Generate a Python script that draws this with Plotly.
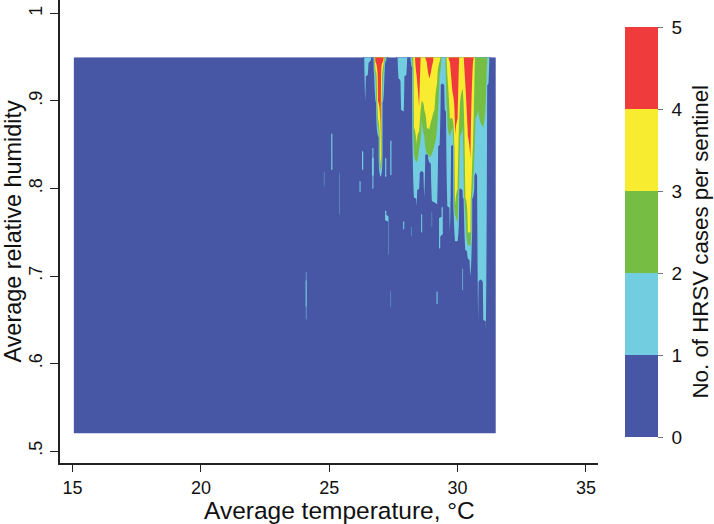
import numpy as np
import plotly.graph_objects as go

# Column read-offs: humidity at which the surface crosses 1, 2, 3, 4 cases (None = never)
col_temp = [26.4,26.5,26.6,26.8,26.9,27.0,27.1,27.2,27.7,27.8,27.9,28.0,28.2,28.3,28.4,28.5,28.6,28.7,28.8,28.9,
            29.0,29.1,29.2,29.3,29.4,29.5,29.6,29.7,29.8,29.9,30.0,30.1,30.2,30.3,30.4,30.5,30.6,30.7,30.8,30.9,
            31.0,31.1,31.2]
cross1 = [.900,.930,.945,.900,.860,.813,.900,.945,.925,.890,.885,.930,.940,.790,.780,.800,.820,.790,.840,.830,
          .785,.783,.780,.850,.920,.890,.780,.750,.850,.740,.740,.800,.790,.730,.720,.700,.790,.817,.648,.695,
          .650,.636,.920]
cross2 = [None,None,None,.930,.870,.820,.930,None,None,None,None,None,None,.840,.830,.845,.880,.860,.840,.835,
          .840,.850,.870,.930,None,None,.880,.860,.870,.770,.760,.860,.870,.770,.735,.735,.800,.880,.890,.875,
          .870,.900,None]
cross3 = [None,None,None,.935,.880,.827,.940,None,None,None,None,None,None,.870,.850,.865,.900,.890,.870,.868,
          .880,.890,.920,.945,None,None,.930,.880,.880,.780,.800,.900,.914,.790,.750,.750,.850,None,None,None,
          None,None,None]
cross4 = [None,None,None,.945,.900,.838,.945,None,None,None,None,None,None,None,.930,.893,None,None,.945,.926,
          .940,None,None,None,None,None,None,.945,.910,.861,.880,None,None,.920,.860,.834,.945,None,None,None,
          None,None,None]

# Isolated streaks: temperature, lower and upper humidity, peak value
streak_temp = [24.1,24.1,24.8,25.1,25.4,25.4,26.2,26.2,26.3,26.7,26.7,27.2,27.2,27.3,27.4,27.4,27.9,28.2,28.6,29.0,29.2,29.3,29.4,30.2]
streak_low  = [.650,.665,.802,.821,.769,.784,.796,.796,.821,.800,.815,.813,.764,.724,.815,.663,.753,.745,.750,.755,.668,.731,.747,.684]
streak_high = [.705,.695,.821,.863,.819,.769,.807,.808,.842,.846,.835,.835,.775,.768,.855,.684,.762,.757,.771,.775,.682,.766,.779,.709]
streak_peak = [1.12,1.3,1.08,1.3,1.08,1.25,1.25,1.25,1.3,1.25,1.6,1.3,1.3,1.08,1.3,1.08,1.25,1.08,1.25,1.08,1.25,1.3,1.3,1.15]

band_colors = ["#4757A6", "#73CDE0", "#76BE43", "#F8EC30", "#EF3B3B"]
tick_x = [15, 20, 25, 30, 35]
tick_y = [.5, .6, .7, .8, .9, 1]
tick_y_labels = [".5", ".6", ".7", ".8", ".9", "1"]
cbar_ticks = [0, 1, 2, 3, 4, 5]
cbar_labels = [" 0", " 1", " 2", " 3", " 4", " 5"]

grid_t = np.round(np.arange(15.1, 31.45, 0.1), 2)
grid_t = np.concatenate([[15.04], grid_t, [31.49]])
grid_h = np.round(np.arange(.52, .9501, .002), 3)
z = np.zeros((len(grid_h), len(grid_t)))

for i, T in enumerate(col_temp):
    j = int(np.argmin(np.abs(grid_t - T)))
    xs, ys = [cross1[i] - .002], [0.0]
    last = 0
    for k, c in enumerate([cross1[i], cross2[i], cross3[i], cross4[i]], start=1):
        if c is not None:
            xs.append(c); ys.append(float(k)); last = k
    if xs[-1] < .95:
        xs.append(.95); ys.append(last + .6)
    z[:, j] = np.interp(grid_h, xs, ys)

for T, lo, hi, pk in zip(streak_temp, streak_low, streak_high, streak_peak):
    j = int(np.argmin(np.abs(grid_t - T)))
    prof = np.interp(grid_h, [lo - .002, lo, hi, hi + .002], [0, pk, pk, 0])
    z[:, j] = np.maximum(z[:, j], prof)

fc = []
for k, c in enumerate(band_colors):
    fc += [[k / 5, c], [(k + 1) / 5, c]]

fig = go.Figure(go.Contour(
    x=grid_t, y=grid_h, z=z,
    zmin=0, zmax=5,
    autocontour=False,
    contours=dict(start=0, end=5, size=1, coloring="fill", showlines=False),
    line=dict(width=0),
    colorscale=fc,
    hoverinfo="skip",
    colorbar=dict(
        x=(625 - 60) / 538, xanchor="left",
        y=(463 - 437) / 463, yanchor="bottom", lenmode="pixels", len=410,
        thickness=33, xpad=0, ypad=0, outlinewidth=0,
        ticks="outside", ticklen=5, tickwidth=1, tickcolor="#777777",
        tickmode="array", tickvals=cbar_ticks, ticktext=cbar_labels,
        tickfont=dict(family="Liberation Sans", size=19, color="#111111"),
    ),
))

fig.update_layout(
    width=714, height=524, margin=dict(l=60, r=116, t=0, b=61),
    paper_bgcolor="white", plot_bgcolor="white", showlegend=False,
    font=dict(family="Liberation Sans", color="#111111"),
    annotations=[
        dict(text="No. of HRSV cases per sentinel", xref="paper", yref="paper",
             x=(700 - 60) / 538, y=(463 - 241.5) / 463, textangle=-90, showarrow=False,
             xanchor="center", yanchor="middle",
             font=dict(family="Liberation Sans", size=22.3, color="#111111")),
        dict(text="Average temperature, °C", xref="paper", yref="paper",
             x=(339.5 - 60) / 538, y=(463 - 510) / 463, showarrow=False,
             xanchor="center", yanchor="middle",
             font=dict(family="Liberation Sans", size=24.5, color="#111111")),
        dict(text="Average relative humidity", xref="paper", yref="paper",
             x=(12 - 60) / 538, y=(463 - 231.5) / 463, textangle=-90, showarrow=False,
             xanchor="center", yanchor="middle",
             font=dict(family="Liberation Sans", size=23.4, color="#111111")),
    ],
)
fig.update_xaxes(range=[14.51, 35.47], tickmode="array", tickvals=tick_x,
                 showgrid=False, zeroline=False, showline=True, linecolor="#222222", linewidth=2,
                 ticks="outside", ticklen=7, tickwidth=1, tickcolor="#222222",
                 tickfont=dict(size=18))
fig.update_yaxes(range=[.4863, 1.0154], tickmode="array", tickvals=tick_y, ticktext=tick_y_labels, tickangle=-90,
                 showgrid=False, zeroline=False, showline=True, linecolor="#222222", linewidth=2,
                 ticks="outside", ticklen=8, tickwidth=1, tickcolor="#222222", ticklabelstandoff=1,
                 tickfont=dict(size=18))

fig.write_html("out.html", config={"displayModeBar": False}, post_script="document.body.style.margin='0';")
